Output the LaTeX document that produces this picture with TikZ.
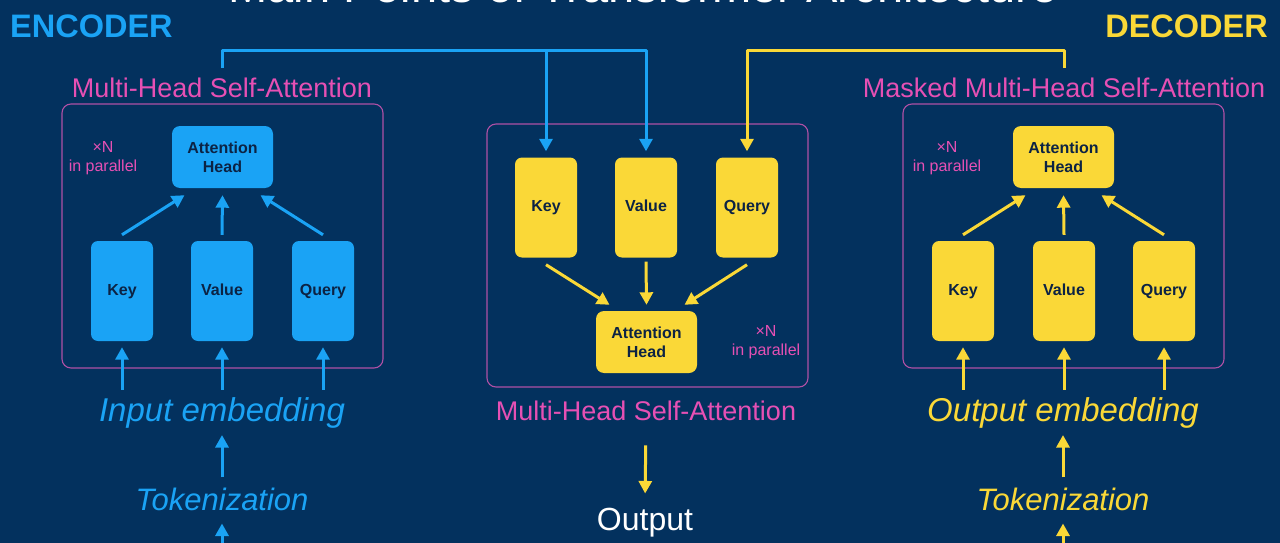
\documentclass[tikz,border=0pt]{standalone}
\usepackage{fontspec}
\setmainfont{Liberation Sans}
\usetikzlibrary{arrows.meta,calc}
\definecolor{bg}{RGB}{3,49,94}
\definecolor{cblue}{RGB}{26,163,245}
\definecolor{cyel}{RGB}{250,216,55}
\definecolor{cpink}{RGB}{230,80,180}
\definecolor{cframe}{RGB}{175,80,165}
\definecolor{ctxt}{RGB}{12,35,68}
\begin{document}
\begin{tikzpicture}[x=1pt,y=-1pt,
  kv/.style={rounded corners=7pt, minimum width=62pt, minimum height=100pt, inner sep=0pt,
    text height=11.5pt, text depth=3.5pt,
    font=\fontsize{16}{19}\selectfont\bfseries, text=ctxt},
  head/.style={rounded corners=8pt, minimum width=101pt, minimum height=62pt, inner sep=0pt,
    align=center, font=\fontsize{16}{19}\selectfont\bfseries, text=ctxt},
  bfill/.style={fill=cblue},
  yfill/.style={fill=cyel},
  panel/.style={draw=cframe, line width=1.1pt, rounded corners=9pt, minimum width=321pt, inner sep=0pt},
  plabel/.style={text=cpink, font=\fontsize{27}{30}\selectfont, inner sep=2pt},
  xn/.style={text=cpink, font=\fontsize{16}{19}\selectfont, align=center, inner sep=0pt},
  emb/.style={font=\fontsize{33}{36}\selectfont\itshape, inner sep=2pt},
  tokn/.style={font=\fontsize{31}{34}\selectfont\itshape, inner sep=2pt},
  side/.style={font=\fontsize{32.5}{35}\selectfont\bfseries, inner sep=0pt},
  tip/.style={-{Triangle[width=13pt,length=12.5pt]}},
  barr/.style={draw=cblue, line width=3pt, line join=round, tip},
  yarr/.style={draw=cyel, line width=3pt, line join=round, tip}
]
\clip (0,0) rectangle (1280,543);
\fill[bg] (0,0) rectangle (1280,543);

% title (cut off at top, as in the reference)
\node[anchor=base, text=white, font=\fontsize{47}{50}\selectfont, inner sep=0pt] (title) at (643,2.5) {Main Points of Transformer Architecture};

% side titles
\node[side, text=cblue, anchor=base west] (enc) at (10,38) {ENCODER};
\node[side, text=cyel, anchor=base east] (dec) at (1268,38) {DECODER};

% ---------------- left (encoder) panel
\node[panel, minimum height=264pt] (lPan) at (222.5,236) {};
\node[plabel, anchor=base] (lLbl) at (222,98) {Multi-Head Self-Attention};
\node[head, bfill] (lHead) at (222.5,157) {Attention\\Head};
\node[xn] (lxn) at (103,158) {×N\\in parallel};
\node[kv, bfill] (lKey) at (122,291) {Key};
\node[kv, bfill] (lVal) at (222,291) {Value};
\node[kv, bfill] (lQry) at (323,291) {Query};
\draw[barr] ([yshift=6pt]lKey.north) -- ([xshift=-38pt,yshift=-7pt]lHead.south);
\draw[barr] ([yshift=6pt]lVal.north) -- ([yshift=-7pt]lHead.south);
\draw[barr] ([yshift=6pt]lQry.north) -- ([xshift=38pt,yshift=-7pt]lHead.south);

\node[emb, text=cblue, anchor=base] (iEmb) at (222,421) {Input embedding};
\node[tokn, text=cblue, anchor=base] (lTok) at (222,510) {Tokenization};
\coordinate (lBot) at (222,550);
\draw[barr, shorten <=5pt] (lKey.south |- iEmb.north) -- ([yshift=-6pt]lKey.south);
\draw[barr, shorten <=5pt] (lVal.south |- iEmb.north) -- ([yshift=-6pt]lVal.south);
\draw[barr, shorten <=5pt] (lQry.south |- iEmb.north) -- ([yshift=-6pt]lQry.south);
\draw[barr, shorten <=8pt, shorten >=5pt] (lTok.north) -- (iEmb.south);
\draw[barr, shorten >=11pt] (lBot) -- (lTok.south);

% ---------------- right (decoder) panel
\node[panel, minimum height=264pt] (rPan) at (1063.5,236) {};
\node[plabel, anchor=base] (rLbl) at (1064,98) {Masked Multi-Head Self-Attention};
\node[head, yfill] (rHead) at (1063.5,157) {Attention\\Head};
\node[xn] (rxn) at (947,158) {×N\\in parallel};
\node[kv, yfill] (rKey) at (963,291) {Key};
\node[kv, yfill] (rVal) at (1064,291) {Value};
\node[kv, yfill] (rQry) at (1164,291) {Query};
\draw[yarr] ([yshift=6pt]rKey.north) -- ([xshift=-38pt,yshift=-7pt]rHead.south);
\draw[yarr] ([yshift=6pt]rVal.north) -- ([yshift=-7pt]rHead.south);
\draw[yarr] ([yshift=6pt]rQry.north) -- ([xshift=38pt,yshift=-7pt]rHead.south);

\node[emb, text=cyel, anchor=base] (oEmb) at (1063,421) {Output embedding};
\node[tokn, text=cyel, anchor=base] (rTok) at (1063,510) {Tokenization};
\coordinate (rBot) at (1063,550);
\draw[yarr, shorten <=5pt] (rKey.south |- oEmb.north) -- ([yshift=-6pt]rKey.south);
\draw[yarr, shorten <=5pt] (rVal.south |- oEmb.north) -- ([yshift=-6pt]rVal.south);
\draw[yarr, shorten <=5pt] (rQry.south |- oEmb.north) -- ([yshift=-6pt]rQry.south);
\draw[yarr, shorten <=8pt, shorten >=5pt] (rTok.north) -- (oEmb.south);
\draw[yarr, shorten >=11pt] (rBot) -- (rTok.south);

% ---------------- centre panel
\node[panel, minimum height=263pt] (cPan) at (647.5,255.5) {};
\node[kv, yfill] (cKey) at (546,207.5) {Key};
\node[kv, yfill] (cVal) at (646,207.5) {Value};
\node[kv, yfill] (cQry) at (747,207.5) {Query};
\node[head, yfill] (cHead) at (646.5,342) {Attention\\Head};
\node[xn] (cxn) at (766,342) {×N\\in parallel};
\draw[yarr] ([yshift=-7pt]cKey.south) -- ([xshift=-37pt,yshift=6pt]cHead.north);
\draw[yarr] ([yshift=-4pt]cVal.south) -- ([yshift=6pt]cHead.north);
\draw[yarr] ([yshift=-7pt]cQry.south) -- ([xshift=38pt,yshift=6pt]cHead.north);
\node[plabel, anchor=base] (cLbl) at (646,420) {Multi-Head Self-Attention};
\node[anchor=base, text=white, font=\fontsize{32}{35}\selectfont, inner sep=2pt] (outp) at (645,530) {Output};
\draw[yarr, shorten <=23pt, shorten >=12pt] (cLbl.south) -- (outp.north);

% ---------------- top connectors
\coordinate (bus) at (0,51);
\draw[barr, shorten <=8pt, shorten >=6pt] (lLbl.north) |- (cVal.north |- bus) -- (cVal.north);
\draw[barr, shorten >=6pt] (cKey.north |- bus) -- (cKey.north);
\draw[yarr, shorten <=8pt, shorten >=6pt] (rLbl.north) |- (cQry.north |- bus) -- (cQry.north);
\end{tikzpicture}
\end{document}
